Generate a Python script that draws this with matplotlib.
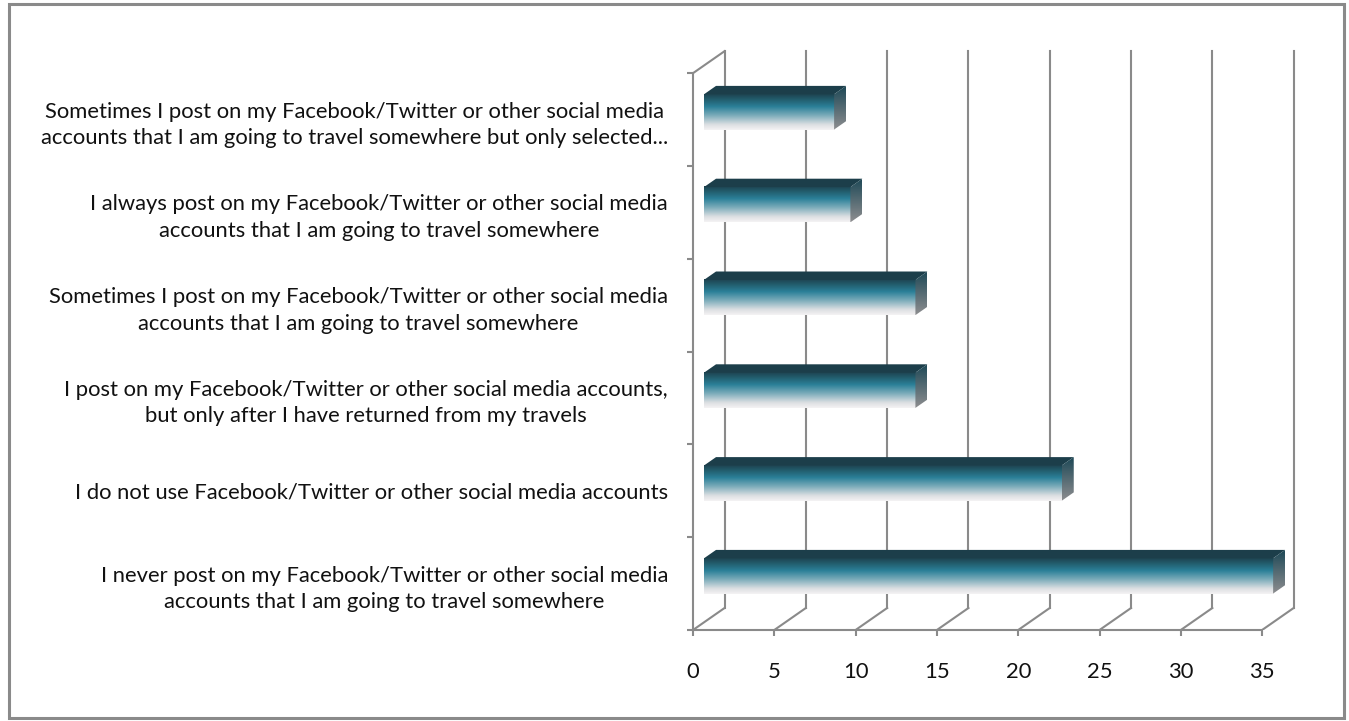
import numpy as np
import matplotlib
matplotlib.use("Agg")
import matplotlib.pyplot as plt
from matplotlib.colors import LinearSegmentedColormap
from matplotlib.patches import Polygon, Rectangle

plt.rcParams["font.family"] = ["Lato", "DejaVu Sans"]

# categories, top to bottom as shown in the chart
categories = [
    "Sometimes I post on my Facebook/Twitter or other social media\n"
    "accounts that I am going to travel somewhere but only selected...",
    "I always post on my Facebook/Twitter or other social media\n"
    "accounts that I am going to travel somewhere",
    "Sometimes I post on my Facebook/Twitter or other social media\n"
    "accounts that I am going to travel somewhere",
    "I post on my Facebook/Twitter or other social media accounts,\n"
    "but only after I have returned from my travels",
    "I do not use Facebook/Twitter or other social media accounts",
    "I never post on my Facebook/Twitter or other social media\n"
    "accounts that I am going to travel somewhere",
]
values = [8, 9, 13, 13, 22, 35]
xticks = [0, 5, 10, 15, 20, 25, 30, 35]

GRID = "#8a8a8a"
DX, DY = 1.94, 0.237        # depth offset of the back wall (data units)
D0, D1 = 0.35, 0.73         # depth span of the bars
BAR_H = 0.38
FS = 15.8

front_cmap = LinearSegmentedColormap.from_list("front", [
    (0.00, "#1e4350"), (0.15, "#225d6d"), (0.35, "#2b8098"),
    (0.60, "#7eadbb"), (0.85, "#dcdfe2"), (1.00, "#f5f3f4")])
side_cmap = LinearSegmentedColormap.from_list("side", ["#1d4856", "#8e8e90"])
TOP = "#1c3e4a"

fig = plt.figure(figsize=(13.49, 7.21), dpi=100)
ax = fig.add_axes([693 / 1349, 91 / 721, 609.75 / 1349, 589.3 / 721])

n = len(categories)
ymax = n
# back wall gridlines + floor diagonals
for v in xticks:
    ax.plot([v + DX, v + DX], [DY, ymax + DY], color=GRID, lw=1.5, zorder=1)
    ax.plot([v, v + DX], [0, DY], color=GRID, lw=1.5, zorder=1)
ax.plot([0, DX], [ymax, ymax + DY], color=GRID, lw=1.5, zorder=1)

grad = np.linspace(0, 1, 256)[:, None]
for i, v in enumerate(values):
    yc = n - i - 0.5
    x0, x1 = D0 * DX, v + D0 * DX
    yb, yt = yc - BAR_H / 2 + D0 * DY, yc + BAR_H / 2 + D0 * DY
    ex, ey = (D1 - D0) * DX, (D1 - D0) * DY
    # front face
    ax.imshow(grad, cmap=front_cmap, extent=[x0, x1, yb, yt], aspect="auto",
              interpolation="bilinear", zorder=3)
    # top face
    ax.add_patch(Polygon([(x0, yt), (x1, yt), (x1 + ex, yt + ey), (x0 + ex, yt + ey)],
                         closed=True, facecolor=TOP, edgecolor="none", zorder=3))
    # right side face
    side = Polygon([(x1, yt), (x1 + ex, yt + ey), (x1 + ex, yb + ey), (x1, yb)],
                   closed=True, facecolor="none", edgecolor="none", zorder=3)
    ax.add_patch(side)
    im = ax.imshow(grad, cmap=side_cmap, extent=[x1, x1 + ex, yb, yt + ey],
                   aspect="auto", interpolation="bilinear", zorder=3)
    im.set_clip_path(side)

ax.set_xlim(0, 37.5)
ax.set_ylim(0, 6.35)

for s in ("top", "right"):
    ax.spines[s].set_visible(False)
for s in ("left", "bottom"):
    ax.spines[s].set_color(GRID)
    ax.spines[s].set_linewidth(1.5)
ax.spines["left"].set_bounds(0, ymax)
ax.spines["bottom"].set_bounds(0, xticks[-1])

ax.set_xticks(xticks)
ax.set_xticklabels([str(t) for t in xticks])
ax.tick_params(axis="x", length=4.3, width=1.5, color=GRID, pad=19,
               labelsize=FS, labelcolor="#111111")

centers = [n - i - 0.5 for i in range(n)]
ax.set_yticks(centers)
ax.set_yticklabels(categories)
ax.set_yticks(range(n + 1), minor=True)
ax.tick_params(axis="y", which="major", length=0, pad=18,
               labelsize=FS, labelcolor="#111111")
ax.tick_params(axis="y", which="minor", length=4, width=1.5, color=GRID)
for lab in ax.get_yticklabels():
    lab.set_multialignment("center")
    lab.set_linespacing(1.4)

fig.patches.append(Rectangle((8.5 / 1349, 3 / 721), 1335.5 / 1349, 714 / 721,
                             transform=fig.transFigure, fill=False,
                             edgecolor="#8a8a8a", lw=2.2))

fig.savefig("out.png", dpi=100)
